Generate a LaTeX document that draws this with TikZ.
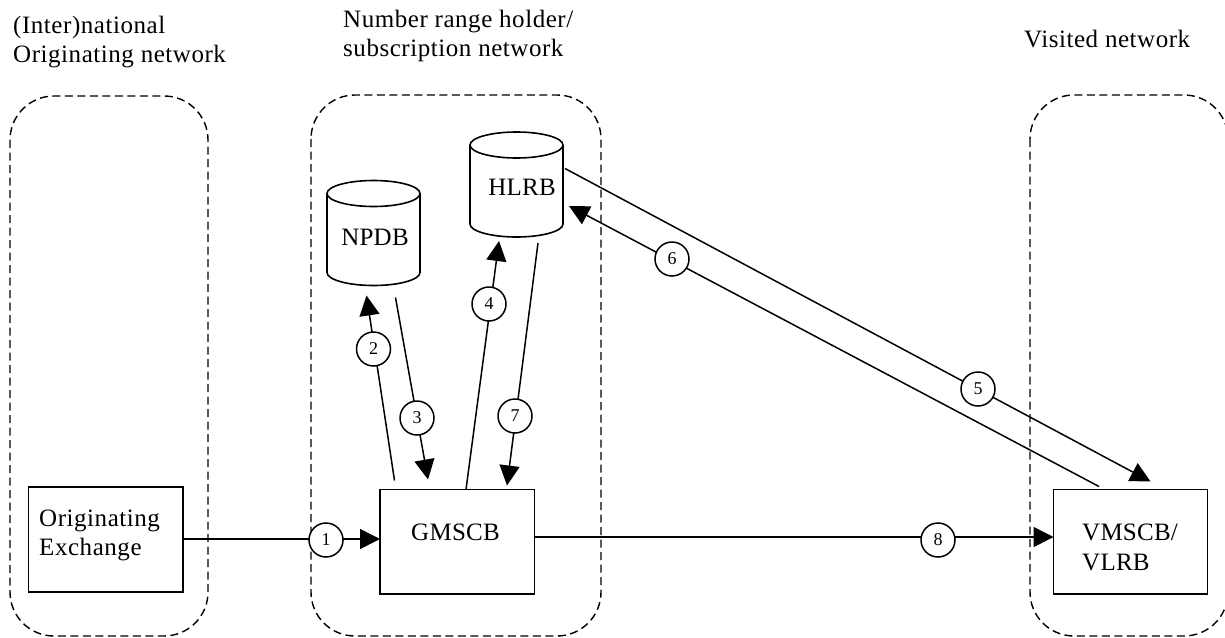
\documentclass[tikz,border=0pt]{standalone}
\usepackage{fontspec}
\setmainfont{Liberation Serif}
\newfontfamily\spaced[LetterSpace=2.2]{Liberation Serif}
\newfontfamily\capspaced[LetterSpace=1]{Liberation Serif}
\usetikzlibrary{arrows.meta,calc}
\tikzset{
  x=1pt,y=-1pt,
  zone/.style={draw,line width=1.4pt,dash pattern=on 8pt off 4.5pt,rounded corners=44pt},
  box/.style={draw,line width=1.7pt,rectangle,inner sep=0pt,outer sep=0pt,anchor=north west},
  cylbody/.style={rectangle,inner sep=0pt,outer sep=0pt,minimum width=93pt,minimum height=105pt},
  cylline/.style={line width=1.6pt},
  lbl/.style={font=\spaced\fontsize{25}{29}\selectfont,inner sep=0pt,align=left,anchor=north west},
  captext/.style={font=\capspaced\fontsize{25}{30}\selectfont,inner sep=0pt,anchor=center},
  tag/.style={draw,circle,fill=white,line width=1.5pt,minimum size=34pt,inner sep=0pt,font=\fontsize{18}{18}\selectfont},
  arr/.style={line width=1.5pt,-{Triangle[length=20pt,width=20pt]}},
}
\newcommand{\drawcyl}[1]{%
  \draw[cylline] ($(#1.north)+(0,13)$) ellipse [x radius=46.5pt,y radius=13pt];
  \draw[cylline] ($(#1.north west)+(0,13)$) -- ($(#1.south west)+(0,-13)$)
    .. controls ($(#1.south west)+(0,-5.8)$) and ($(#1.south)+(-25.6,0)$) .. (#1.south)
    .. controls ($(#1.south)+(25.6,0)$) and ($(#1.south east)+(0,-5.8)$) .. ($(#1.south east)+(0,-13)$)
    -- ($(#1.north east)+(0,13)$);
}
\begin{document}
\begin{tikzpicture}
\useasboundingbox (0,0) rectangle (1225,637);
\clip (0,0) rectangle (1225,637);
\draw[zone] (10,96) rectangle (208,636);
\draw[zone] (311,95) rectangle (601,636);
\draw[zone] (1030,95) rectangle (1228,636);
\node[lbl] (t1) at (13,16) {(Inter)national\\Originating network};
\node[lbl] (t2) at (343,10) {Number range holder/\\subscription network};
\node[lbl] (t3) at (1024,30) {Visited network};
\node[cylbody] (npdb) at (373.5,233) {};
\node[cylbody] (hlrb) at (516.5,184.5) {};
\drawcyl{npdb}
\drawcyl{hlrb}
\node[captext] (npdbt) at (375,237) {NPDB};
\node[captext] (hlrbt) at (522,187) {HLRB};
\node[box,minimum width=154.5pt,minimum height=105pt] (orig) at (28.5,487) {};
\node[box,minimum width=154.5pt,minimum height=104.5pt] (gmscb) at (380,489.5) {};
\node[box,minimum width=154pt,minimum height=104.5pt] (vmscb) at (1053.5,489.5) {};
\node[lbl] (origt) at (39,510) {Originating\\Exchange};
\node[captext] (gmscbt) at (455.5,532) {GMSCB};
\node[lbl,font=\capspaced\fontsize{25}{30}\selectfont] (vmscbt) at (1082,524) {VMSCB/\\VLRB};
% connectors
\draw[arr] (orig.east |- 0,539) -- (gmscb.west |- 0,539);
\draw[arr] (gmscb.east |- 0,537) -- (vmscb.west |- 0,537);
\draw[arr] ($(gmscb.north west)+(14.5,-9)$) -- ($(npdb.south)+(-7,10)$);
\draw[arr] ($(npdb.south)+(22,12)$) -- ($(gmscb.north west)+(48,-10)$);
\draw[arr] ($(gmscb.north west)+(86,0)$) -- ($(hlrb.south)+(-17.5,4)$);
\draw[arr] ($(hlrb.south)+(21.5,6)$) -- ($(gmscb.north west)+(127,-4)$);
\draw[arr] ($(hlrb.east)+(2,-16)$) -- ($(vmscb.north west)+(97,-8)$);
\draw[arr] ($(vmscb.north west)+(45.5,-3)$) -- ($(hlrb.east)+(6,21.5)$);
% tags
\node[tag] (n1) at (326,540) {1};
\node[tag] (n2) at (373.5,349) {2};
\node[tag] (n3) at (417,418) {3};
\node[tag] (n4) at (489,304) {4};
\node[tag] (n5) at (978,389) {5};
\node[tag] (n6) at (672,259) {6};
\node[tag] (n7) at (515,416) {7};
\node[tag] (n8) at (938,540) {8};
\end{tikzpicture}
\end{document}
